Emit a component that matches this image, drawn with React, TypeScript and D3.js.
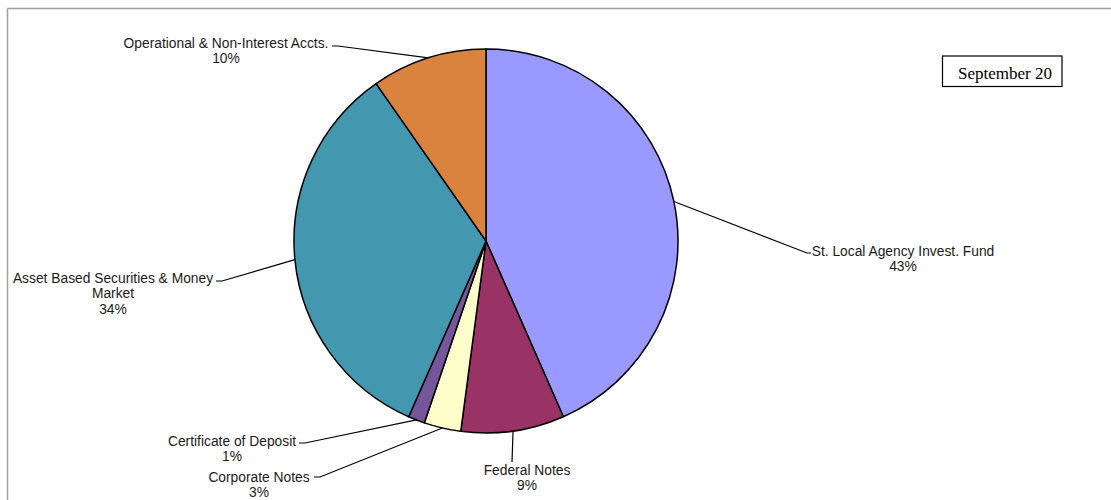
import React from "react";
import * as d3 from "d3";

const categories = [
  "St. Local Agency Invest. Fund",
  "Federal Notes",
  "Corporate Notes",
  "Certificate of Deposit",
  "Asset Based Securities & Money Market",
  "Operational & Non-Interest Accts.",
];
const values = [43.4, 8.7, 3.1, 1.4, 33.7, 9.7];
const percentLabels = ["43%", "9%", "3%", "1%", "34%", "10%"];
const colors = ["#9999FF", "#993366", "#FFFFCC", "#75569A", "#4398B0", "#DA833E"];
const title = "September 20";

// label layout: text lines, anchor x (center), first baseline y, leader end point
const labelLayout = [
  { lines: ["St. Local Agency Invest. Fund"], cx: 903, y: 256, ex: 807, ey: 253, hx: 811 },
  { lines: ["Federal Notes"], cx: 527, y: 475, ex: 512, ey: 462, hx: 512 },
  { lines: ["Corporate Notes"], cx: 259, y: 481.5, ex: 320, ey: 477, hx: 314 },
  { lines: ["Certificate of Deposit"], cx: 232, y: 446, ex: 305, ey: 443, hx: 299 },
  { lines: ["Asset Based Securities & Money", "Market"], cx: 113, y: 283, ex: 222, ey: 281, hx: 216 },
  { lines: ["Operational & Non-Interest Accts."], cx: 226, y: 48, ex: 338, ey: 46, hx: 332 },
];

export default function App() {
  const W = 1111, H = 500;
  const cx = 486, cy = 241, r = 192;
  const pie = d3.pie<number>().sort(null).value((d) => d);
  const arcs = pie(values);
  const arc = d3.arc<d3.PieArcDatum<number>>().innerRadius(0).outerRadius(r);
  const lh = 15.3;
  return (
    <svg width={W} height={H} style={{ position: "absolute", left: 0, top: 0 }}>
      <rect x={0} y={0} width={W} height={H} fill="#fff" />
      <line x1={7.5} y1={8.5} x2={W} y2={8.5} stroke="#a0a0a0" strokeWidth={1.5} />
      <line x1={7.5} y1={8.5} x2={7.5} y2={H} stroke="#a0a0a0" strokeWidth={1.5} />
      <g transform={`translate(${cx},${cy})`}>
        {arcs.map((a, i) => (
          <path key={i} d={arc(a) || ""} fill={colors[i]} stroke="#000" strokeWidth={1.5} strokeLinejoin="round" />
        ))}
      </g>
      {arcs.map((a, i) => {
        const mid = (a.startAngle + a.endAngle) / 2;
        const px = cx + r * Math.sin(mid);
        const py = cy - r * Math.cos(mid);
        const L = labelLayout[i];
        const pts = `${px},${py} ${L.ex},${L.ey} ${L.hx},${L.ey}`;
        const allLines = [...L.lines, percentLabels[i]];
        return (
          <g key={i}>
            <polyline points={pts} fill="none" stroke="#000" strokeWidth={1.2} />
            <text textAnchor="middle" fontFamily="Liberation Sans, Arial, sans-serif" fontSize={13.8} fill="#1a1a1a">
              {allLines.map((t, j) => (
                <tspan key={j} x={L.cx} y={L.y + j * lh}>{t}</tspan>
              ))}
            </text>
          </g>
        );
      })}
      <rect x={942.5} y={56} width={119.5} height={30.5} fill="#fff" stroke="#000" strokeWidth={1.2} />
      <text x={1005} y={79} textAnchor="middle" fontFamily="Liberation Serif, Times New Roman, serif" fontSize={17} fill="#000">
        {title}
      </text>
    </svg>
  );
}
